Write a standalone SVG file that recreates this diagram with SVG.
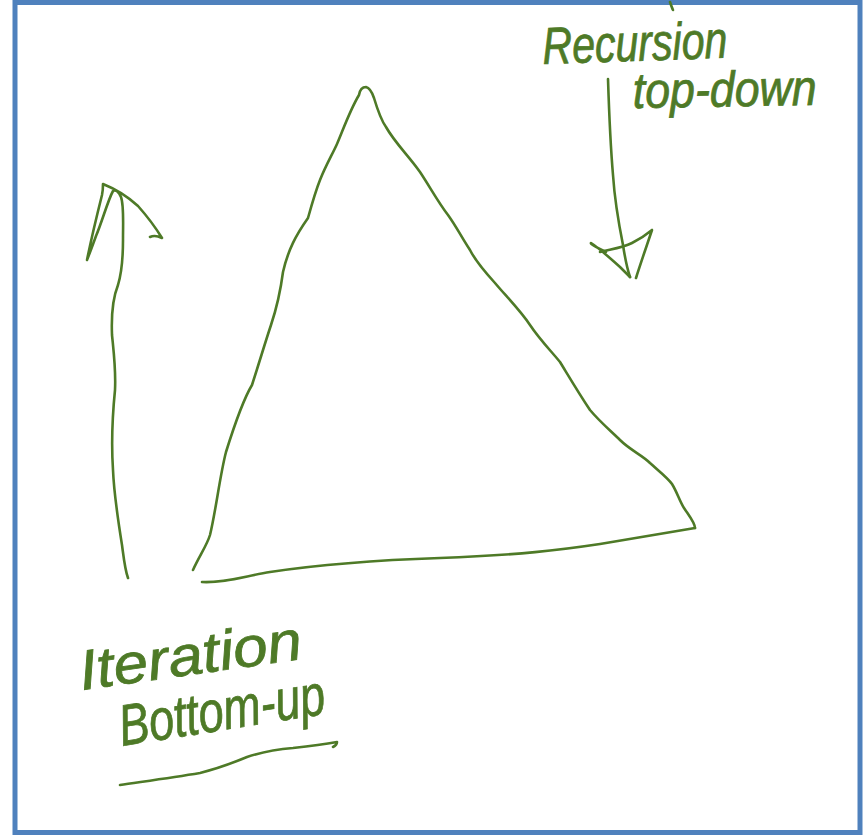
<svg xmlns="http://www.w3.org/2000/svg" width="865" height="836" viewBox="0 0 865 836">
<style>
.ink{fill:none;stroke:#4E7A27;stroke-width:2.6;stroke-linecap:round;stroke-linejoin:round}
.lbl{fill:#4E7A27;stroke:#4E7A27;stroke-width:0.8;font-family:"Liberation Sans","DejaVu Sans",sans-serif;font-style:italic}
</style>
<rect width="865" height="836" fill="#ffffff"/>
<rect id="frame" x="15" y="2.5" width="845" height="830" fill="none" stroke="#4F81BD" stroke-width="5"/>
<g id="triangle">
<path class="ink" d="M193,570 C200,555 207,545 210,535 C216,510 220,475 226,452 C236,420 246,395 252,385 C260,360 266,340 271,325 C276,310 280,295 283,272 C288,250 296,235 308,218 C313,200 316,190 320,180 C326,165 332,155 337,144 C343,130 350,110 359,95 C360,89 363,87 366,87 C370,88 372,92 374,98 C377,108 381,120 386,127 C395,143 408,155 420,172 C430,187 438,202 448,215 C456,226 462,238 470,250 C476,262 485,272 495,283 C505,295 520,310 530,325 C540,340 552,352 560,362 C568,375 578,392 590,410 C600,422 612,432 620,440 C630,450 642,455 650,463 C660,472 668,478 672,484 C677,492 680,502 684,508 C690,517 695,523 695,528"/>
<path class="ink" d="M695,528 C670,532 640,537 600,544 C560,550 520,555 440,558 C380,560 330,563 270,572 C245,576 225,583 202,582"/>
</g>
<g id="connectors">
<g id="arrow-up">
<path class="ink" d="M128,578 C125,570 124,560 122,545 C118,520 114,495 113,470 C111,440 113,410 115,390 C116,370 114,355 112,335 C111,310 114,295 118,285 C121,275 123,262 123,240 C123,220 124,205 121,197 C119,192 116,189 113,191 C108,200 102,222 96,236 C92,247 89,255 87,260 C91,240 97,215 102,195 C103,190 103,186 103,184 C113,188 126,195 138,206 C146,215 154,225 162,238 C158,236 154,235 150,237"/>
</g>
<g id="arrow-down">
<path class="ink" d="M608,79 C609,110 610,140 613,175 C615,205 620,230 623,245 C625,258 627,268 630,277"/>
<path class="ink" d="M606,252 C598,248 590,244 591,243 C596,246 610,258 620,267 C625,272 628,275 630,277"/>
<path class="ink" d="M600,252 C612,249 622,248 632,243 C640,239 646,235 652,230 C647,245 641,262 636,278"/>
</g>
<path class="ink" d="M670,2 C671,5 672,8 673,10"/>
</g>
<g id="label-recursion">
<text class="lbl" x="543" y="64" font-size="52" textLength="185" lengthAdjust="spacingAndGlyphs" transform="rotate(-2 543 64)">Recursion</text>
<text class="lbl" x="633" y="108" font-size="50" textLength="184" lengthAdjust="spacingAndGlyphs" transform="rotate(-1 633 108)">top-down</text>
</g>
<g id="label-iteration">
<text class="lbl" x="82" y="690" font-size="56" textLength="224" lengthAdjust="spacingAndGlyphs" transform="rotate(-8 82 690)">Iteration</text>
<text class="lbl" x="122" y="746" font-size="58" textLength="208" lengthAdjust="spacingAndGlyphs" transform="rotate(-9 122 746)">Bottom-up</text>
<path class="ink" d="M120,785 C140,782 170,778 200,773 C220,768 235,762 247,757 C262,752 280,749 293,748 C310,746 325,744 337,742 C337,745 335,746 333,747"/>
</g>
</svg>
